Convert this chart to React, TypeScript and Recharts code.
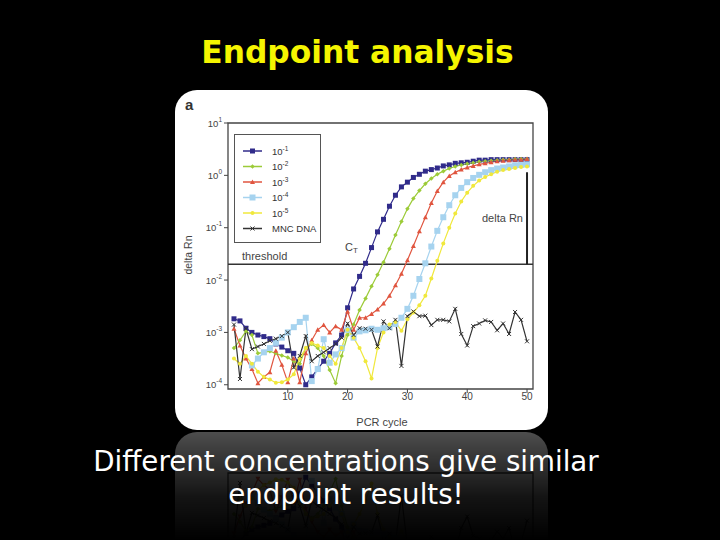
import React from 'react';
import { LineChart, Line, XAxis, YAxis, ReferenceLine, ReferenceArea } from 'recharts';

// PCR cycle numbers
const cycles = [
  1, 2, 3, 4, 5, 6, 7, 8, 9, 10, 11, 12, 13, 14, 15, 16, 17, 18, 19, 20, 21, 22, 23, 24, 25,
  26, 27, 28, 29, 30, 31, 32, 33, 34, 35, 36, 37, 38, 39, 40, 41, 42, 43, 44, 45, 46, 47, 48, 49, 50,
];

// log10(delta Rn), one value per cycle
const dil1 = [
  -2.74, -2.78, -2.92, -3.0, -3.05, -3.08, -3.12, -3.22, -3.28, -3.35, -3.4, -3.68, -4.0, -3.85, -3.7,
  -3.55, -3.4, -3.2, -3.05, -2.53, -2.17, -1.93, -1.68, -1.38, -1.08, -0.84, -0.59, -0.38, -0.22, -0.13,
  -0.04, 0.02, 0.08, 0.11, 0.14, 0.18, 0.2, 0.23, 0.24, 0.25, 0.27, 0.29, 0.29, 0.3, 0.3, 0.3, 0.3, 0.3, 0.3, 0.3,
];
const dil2 = [
  -3.3, -3.15, -2.98, -3.05, -3.4, -3.38, -3.36, -3.4, -3.44, -3.48, -3.55, -3.6, -3.3, -3.22, -3.3,
  -3.45, -3.72, -3.97, -3.45, -3.05, -2.85, -2.57, -2.35, -2.12, -1.9, -1.66, -1.4, -1.14, -0.88, -0.64,
  -0.44, -0.29, -0.16, -0.06, 0.02, 0.08, 0.13, 0.17, 0.2, 0.22, 0.24, 0.26, 0.27, 0.28, 0.29, 0.3, 0.3, 0.31, 0.31, 0.31,
];
const dil3 = [
  -2.93, -3.25, -3.5, -3.7, -3.97, -3.85, -3.76, -3.35, -3.62, -3.95, -3.5, -3.95, -3.4, -3.15, -2.95,
  -2.86, -3.0, -2.88, -2.95, -2.6, -2.95, -2.72, -2.72, -2.65, -2.56, -2.45, -2.3, -2.1, -1.88, -1.62,
  -1.35, -1.07, -0.8, -0.53, -0.3, -0.13, -0.01, 0.06, 0.11, 0.15, 0.18, 0.21, 0.23, 0.25, 0.27, 0.28, 0.29, 0.3, 0.3, 0.31,
];
const dil4 = [
  null, null, null, -3.63, -3.5, -3.38, -3.3, -3.2, -3.1, -3.0, -2.9, -2.8, -2.72, -3.93, -3.7,
  -3.13, -3.58, -3.42, -3.3, -2.95, -3.1, -2.98, -2.96, -2.93, -2.95, -2.92, -2.9, -2.84, -2.72, -2.55,
  -2.3, -1.98, -1.68, -1.36, -1.06, -0.8, -0.57, -0.38, -0.24, -0.13, -0.05, 0.01, 0.06, 0.1, 0.13, 0.15, 0.17, 0.19, 0.2, 0.21,
];
const dil5 = [
  -3.5, -3.6, -3.45, -3.6, -3.75, -3.85, -3.9, -3.96, -3.95, -3.9, -3.8, -3.5, -3.3, -3.2, -3.25,
  -3.3, -3.45, -3.6, -3.3, -2.95, -3.1, -3.3, -3.55, -3.88, -3.3, -3.0, -2.85, -2.8, -2.97, -2.75,
  -2.62, -2.48, -2.3, -1.97, -1.63, -1.3, -1.0, -0.73, -0.5, -0.33, -0.2, -0.1, -0.03, 0.02, 0.07, 0.1, 0.12, 0.14, 0.16, 0.17,
];
const mnc = [
  -2.85, -3.89, -2.93, -3.32, -3.27, -3.22, -3.16, -3.12, -3.07, -3.0, -3.67, -3.45, -3.07, -3.55, -3.45,
  -3.38, -3.3, -3.22, -3.1, -2.83, -3.05, -2.92, -2.93, -2.95, -3.27, -2.79, -2.92, -2.76, -3.64, -2.69,
  -2.6, -2.69, -2.68, -2.86, -2.76, -2.76, -2.79, -2.55, -3.03, -3.25, -2.88, -2.83, -2.77, -2.8, -2.96,
  -2.83, -3.03, -2.61, -2.76, -3.17,
];

const yTicks = [10, 1, 0.1, 0.01, 0.001, 0.0001];
const xTicks = [10, 20, 30, 40, 50];
const threshold = 0.02;
const plateau = 1.15;

const series = [
  { key: 'dil1', exp: '-1', values: dil1, color: '#302b8a', shape: 'square', size: 5 },
  { key: 'dil2', exp: '-2', values: dil2, color: '#9ccb38', shape: 'diamond', size: 4.5 },
  { key: 'dil3', exp: '-3', values: dil3, color: '#e0553f', shape: 'triangle', size: 5 },
  { key: 'dil4', exp: '-4', values: dil4, color: '#a6d3ef', shape: 'square', size: 6 },
  { key: 'dil5', exp: '-5', values: dil5, color: '#f0e83c', shape: 'circle', size: 4 },
  { key: 'mnc', exp: '', values: mnc, color: '#333333', shape: 'x', size: 4 },
];

const data = cycles.map((c, i) => {
  const row: any = { cycle: c };
  series.forEach((s) => {
    const v = s.values[i];
    row[s.key] = v === null || v === undefined ? null : Math.pow(10, v);
  });
  return row;
});

const FONT = '"Liberation Sans", Arial, sans-serif';

const Marker = ({ cx, cy, shape, color, size }: any) => {
  const h = size / 2;
  if (shape === 'square') return <rect x={cx - h} y={cy - h} width={size} height={size} fill={color} />;
  if (shape === 'diamond')
    return <polygon points={`${cx},${cy - h} ${cx + h},${cy} ${cx},${cy + h} ${cx - h},${cy}`} fill={color} />;
  if (shape === 'triangle')
    return <polygon points={`${cx},${cy - h} ${cx + h},${cy + h * 0.8} ${cx - h},${cy + h * 0.8}`} fill={color} />;
  if (shape === 'circle') return <circle cx={cx} cy={cy} r={h} fill={color} />;
  return (
    <path
      d={`M${cx - h},${cy - h}L${cx + h},${cy + h}M${cx + h},${cy - h}L${cx - h},${cy + h}`}
      stroke={color}
      strokeWidth={1}
    />
  );
};

const PowTick = ({ x, y, payload }: any) => {
  const e = Math.round(Math.log10(payload.value));
  return (
    <text x={x} y={y} dy={3.5} textAnchor="end" fontSize={9.5} fill="#444" fontFamily={FONT}>
      <tspan>10</tspan>
      <tspan dy={-5} fontSize={6.5}>{e}</tspan>
    </text>
  );
};

const LegendBox = () => (
  <svg width={87} height={109} style={{ position: 'absolute', left: 59, top: 44, overflow: 'visible' }}>
    <rect x={0.5} y={0.5} width={86} height={108} fill="#fff" stroke="#555" strokeWidth={1} />
    {series.map((s, i) => {
      const y = 17 + i * 15.5;
      return (
        <g key={s.key}>
          <line x1={9} x2={28} y1={y} y2={y} stroke={s.color} strokeWidth={1.3} />
          <Marker cx={18.5} cy={y} shape={s.shape} color={s.color} size={s.size} />
          <text x={38} y={y + 3.5} fontSize={9.5} fill="#333" fontFamily={FONT}>
            {s.exp ? (
              <>
                <tspan>10</tspan>
                <tspan dy={-4} fontSize={6.5}>{s.exp}</tspan>
              </>
            ) : (
              'MNC DNA'
            )}
          </text>
        </g>
      );
    })}
  </svg>
);

const label = (style: React.CSSProperties): React.CSSProperties => ({
  position: 'absolute',
  fontFamily: FONT,
  color: '#444',
  fontSize: 11,
  lineHeight: '12px',
  whiteSpace: 'nowrap',
  ...style,
});

// mirror = the faded reflection under the card, drawn without text
const Card = ({ mirror = false }: { mirror?: boolean }) => (
  <div
    style={{
      position: 'absolute',
      left: 0,
      top: 0,
      width: 373,
      height: 340,
      background: '#fff',
      borderRadius: 22,
      overflow: 'hidden',
    }}
  >
    <LineChart width={373} height={340} data={data} margin={{ top: 33, right: 15, bottom: 11, left: 13 }}>
      <XAxis
        dataKey="cycle"
        type="number"
        domain={[0, 51]}
        ticks={xTicks}
        axisLine={false}
        tickSize={4}
        tickMargin={0}
        height={30}
        tickLine={{ stroke: '#444' }}
        tick={mirror ? false : { fontSize: 10, fill: '#444', fontFamily: FONT }}
      />
      <YAxis
        type="number"
        scale="log"
        domain={[0.000083, 10]}
        allowDataOverflow
        ticks={yTicks}
        axisLine={false}
        tickSize={4}
        tickMargin={2}
        width={40}
        tickLine={{ stroke: '#444' }}
        tick={mirror ? false : <PowTick />}
      />
      <ReferenceArea x1={0} x2={51} y1={0.000083} y2={10} fill="none" stroke="#444" strokeWidth={1.3} ifOverflow="visible" />
      <ReferenceLine y={threshold} stroke="#333" strokeWidth={1.4} />
      <ReferenceLine
        segment={[
          { x: 50, y: plateau },
          { x: 50, y: threshold },
        ]}
        stroke="#222"
        strokeWidth={2}
      />
      {series.map((s) => (
        <Line
          key={s.key}
          dataKey={s.key}
          stroke={s.color}
          strokeWidth={1.2}
          isAnimationActive={false}
          connectNulls={false}
          dot={(p: any) =>
            p.cy == null || p.value == null ? (
              <g key={`${s.key}-${p.index}`} />
            ) : (
              <Marker key={`${s.key}-${p.index}`} cx={p.cx} cy={p.cy} shape={s.shape} color={s.color} size={s.size} />
            )
          }
          activeDot={false}
        />
      ))}
    </LineChart>
    {!mirror && (
      <>
        <LegendBox />
        <div style={label({ left: 10, top: 6, fontSize: 15, fontWeight: 'bold', color: '#333', lineHeight: '18px' })}>a</div>
        <div style={label({ left: 67, top: 160 })}>threshold</div>
        <div style={label({ left: 170, top: 151 })}>
          C<sub style={{ fontSize: 8, verticalAlign: 'baseline', position: 'relative', top: 2 }}>T</sub>
        </div>
        <div style={label({ left: 307, top: 122 })}>delta Rn</div>
        <div style={label({ left: 0, top: 326, width: 414, textAlign: 'center' })}>PCR cycle</div>
        <div
          style={label({
            left: -10,
            top: 159,
            width: 46,
            textAlign: 'center',
            fontSize: 10.5,
            transform: 'rotate(-90deg)',
          })}
        >
          delta Rn
        </div>
      </>
    )}
  </div>
);

export default function App() {
  const fade = 'linear-gradient(to bottom, rgba(0,0,0,0.3), rgba(0,0,0,0.08) 60%, rgba(0,0,0,0) 100%)';
  return (
    <div style={{ position: 'fixed', left: 0, top: 0, width: 720, height: 540, background: '#000', overflow: 'hidden' }}>
      <div
        style={{
          position: 'absolute',
          left: 0,
          top: 34,
          width: 715,
          textAlign: 'center',
          color: '#f5f500',
          fontFamily: '"DejaVu Sans", Verdana, sans-serif',
          fontWeight: 'bold',
          fontSize: 31.3,
          lineHeight: '36px',
        }}
      >
        Endpoint analysis
      </div>
      <div style={{ position: 'absolute', left: 175, top: 90, width: 373, height: 340 }}>
        <Card />
      </div>
      <div
        style={{
          position: 'absolute',
          left: 175,
          top: 432,
          width: 373,
          height: 108,
          overflow: 'hidden',
          WebkitMaskImage: fade,
          maskImage: fade,
        }}
      >
        <div style={{ position: 'absolute', left: 0, top: 0, width: 373, height: 340, transform: 'scaleY(-1)' }}>
          <Card mirror />
        </div>
      </div>
      <div
        style={{
          position: 'absolute',
          left: 0,
          top: 445,
          width: 692,
          textAlign: 'center',
          color: '#fff',
          fontFamily: '"DejaVu Sans", Verdana, sans-serif',
          fontSize: 27.7,
          lineHeight: '33px',
        }}
      >
        Different concentrations give similar
        <br />
        endpoint results!
      </div>
    </div>
  );
}
